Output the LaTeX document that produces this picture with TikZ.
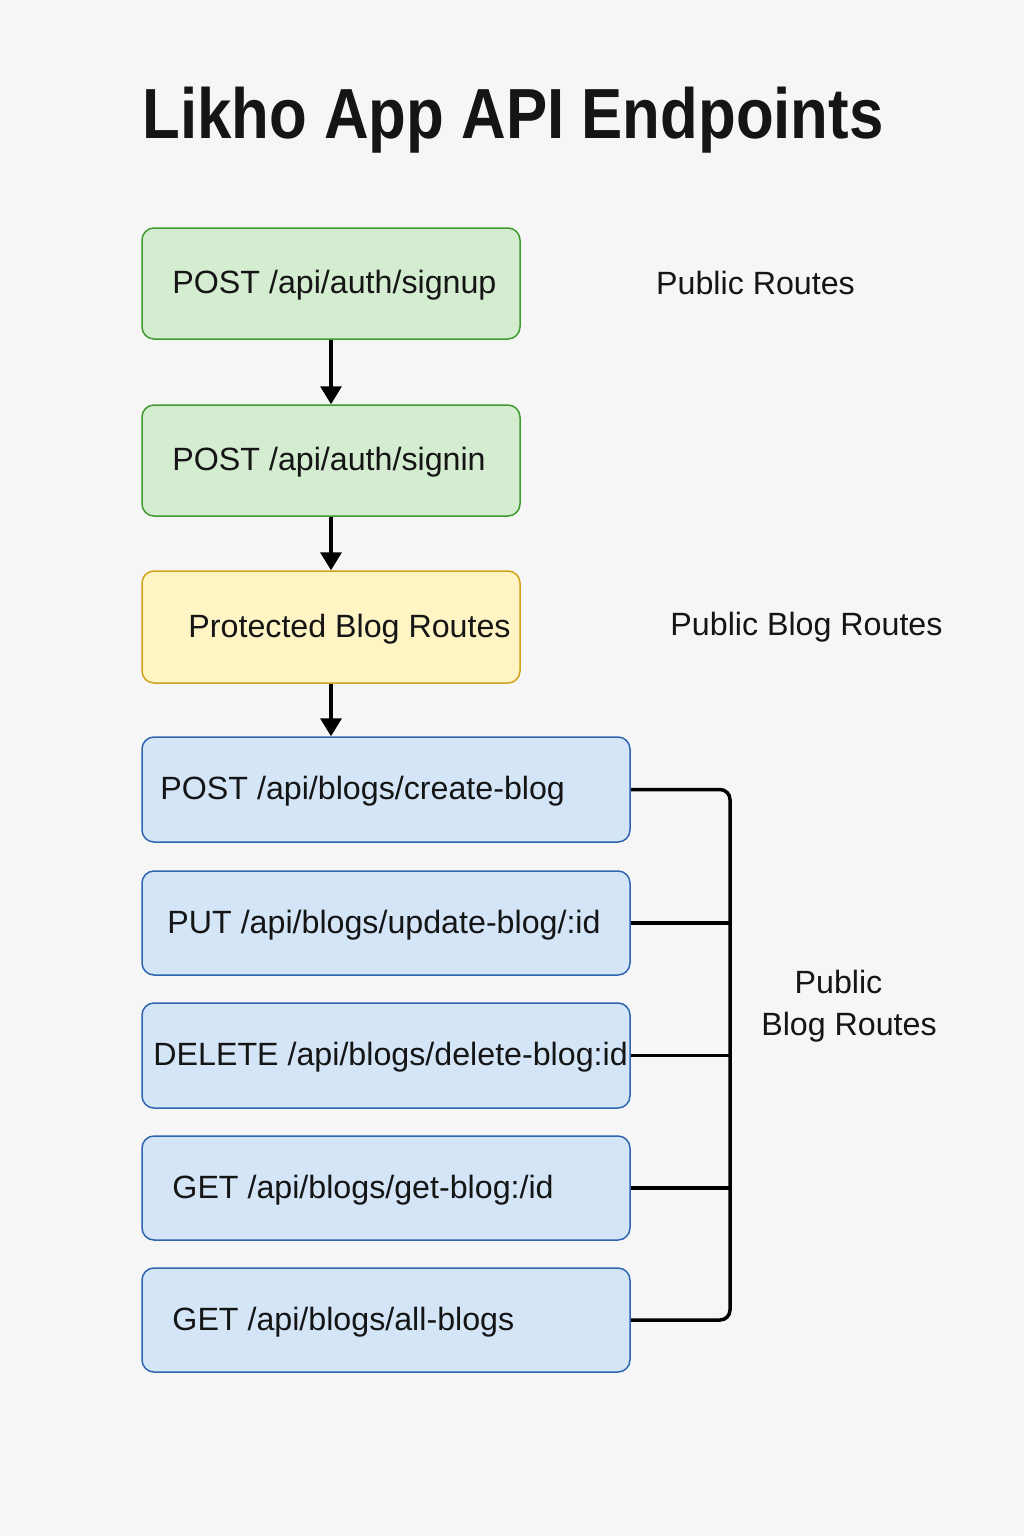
\documentclass[tikz,border=0pt]{standalone}
\usepackage{fontspec}
\setmainfont{Liberation Sans}
\newfontfamily\titlefont[FakeStretch=0.87]{Liberation Sans}
\usetikzlibrary{arrows.meta}
\definecolor{bgcol}{HTML}{F6F6F6}
\definecolor{inkcol}{HTML}{151515}
\definecolor{greenfill}{HTML}{D4EDD1}
\definecolor{greenline}{HTML}{3F9A2F}
\definecolor{yellowfill}{HTML}{FFF4C4}
\definecolor{yellowline}{HTML}{D1A21A}
\definecolor{bluefill}{HTML}{D3E5F7}
\definecolor{blueline}{HTML}{2F65AE}

\begin{document}
\begin{tikzpicture}[x=1pt,y=-1pt,
  every node/.style={font=\fontsize{32.2}{42}\selectfont,text=inkcol},
  box/.style={draw=#1line,fill=#1fill,rounded corners=12pt,line width=1.5pt},
  flow/.style={-{Triangle[width=21pt,length=18pt]},line width=3.5pt},
  bracket/.style={line width=3.5pt}]
\fill[bgcol] (0,0) rectangle (1024,1536);
\useasboundingbox (0,0) rectangle (1024,1536);
\node (title) at (513,120) {\titlefont\fontsize{71}{80}\selectfont\bfseries Likho App API Endpoints};
\foreach \x/\y/\w/\h/\n/\c/\d/\t in {331/283.5/378/111/signup/green/31/{POST /api/auth/signup},
    331/460.5/378/111/signin/green/31/{POST /api/auth/signin},
    331/627/378/112/protected/yellow/47/{Protected Blog Routes},
    386/789.5/488/105/createblog/blue/19/{POST /api/blogs/create-blog},
    386/923/488/104/updateblog/blue/26/{PUT /api/blogs/update-blog/:id},
    386/1055.5/488/105/deleteblog/blue/12/{DELETE /api/blogs/delete-blog:id},
    386/1188/488/104/getblog/blue/31/{GET /api/blogs/get-blog:/id},
    386/1320/488/104/allblogs/blue/31/{GET /api/blogs/all-blogs}}
{
  \node[box=\c,minimum width=\w pt,minimum height=\h pt] (\n) at (\x,\y) {};
  \node[anchor=west,inner sep=0pt,yshift=-2pt] (\n txt) at ([xshift=\d pt]\n.west) {\t};
}
\foreach \s/\t in {signup/signin, signin/protected}
  \draw[flow] (\s) -- (\t);
\draw[flow] (protected.south) -- (protected.south |- createblog.north);
\coordinate (bus) at (730,1000);
\draw[bracket,rounded corners=10pt] (createblog.east) -| (bus) |- (allblogs.east);
\foreach \n in {updateblog, deleteblog, getblog}
  \draw[bracket] (\n.east) -- (\n.east -| bus);
\node (publicroutes) at (755.5,283) {Public Routes};
\node (publicblog) at (806.5,627) {Public Blog Routes};
\node[align=center] (blogroutes) at (849,1006) {Public\hspace*{21pt}\\Blog Routes};
\end{tikzpicture}
\end{document}
